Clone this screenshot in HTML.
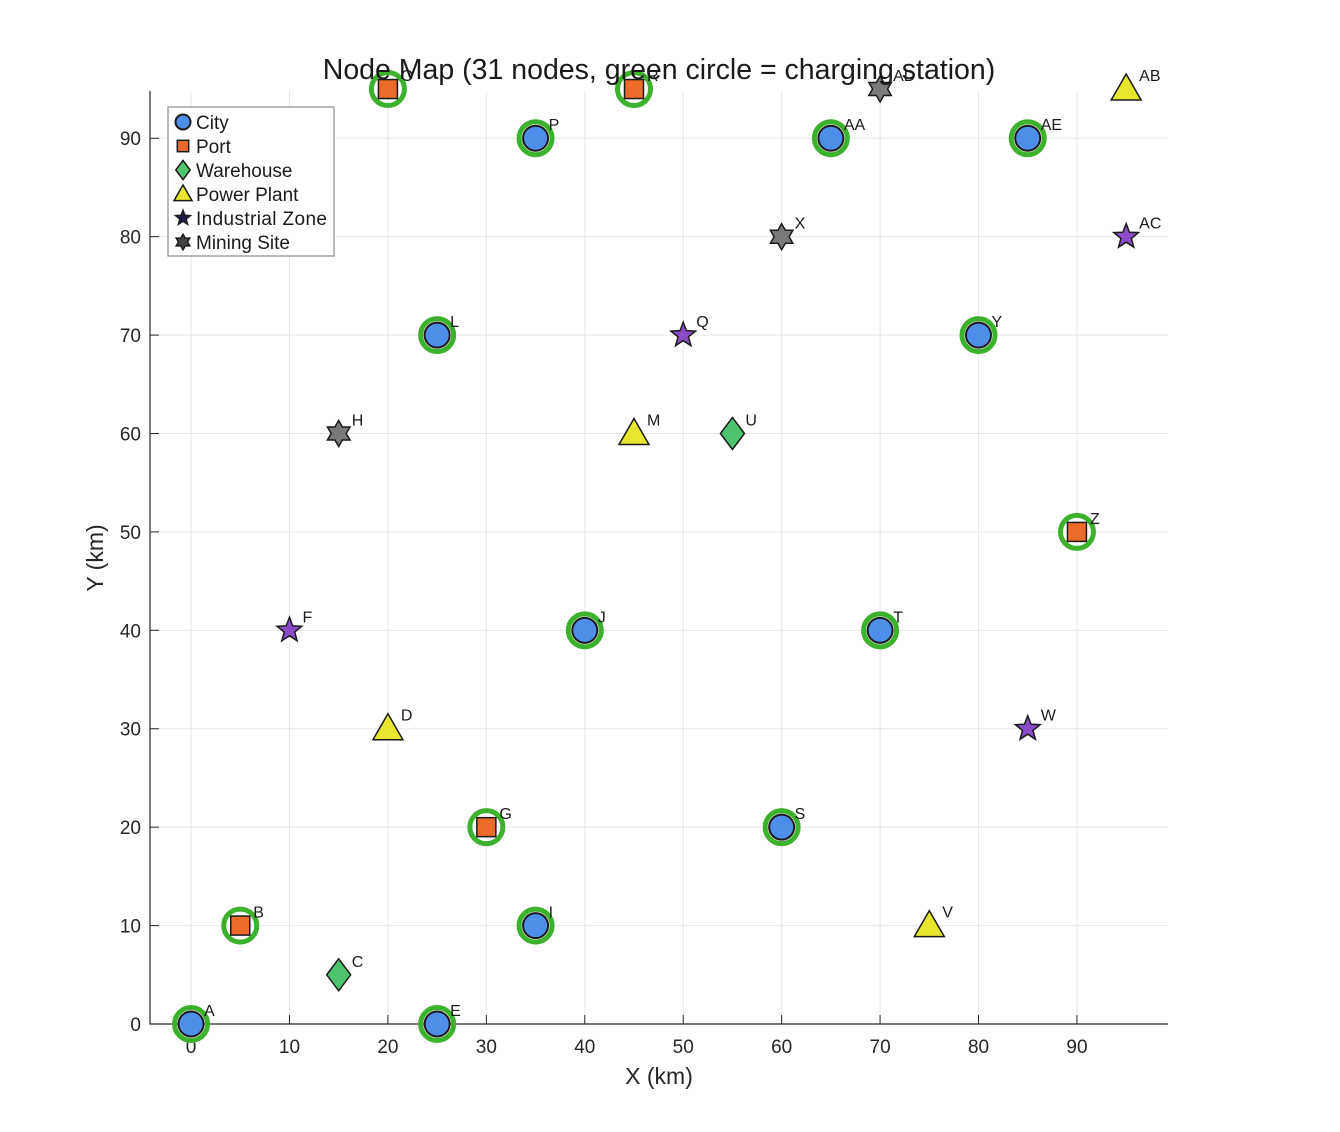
<!DOCTYPE html>
<html><head><meta charset="utf-8"><style>
body{margin:0;background:#fff;}
svg{display:block;font-family:"Liberation Sans",sans-serif;}
</style></head><body>
<svg id="chart" width="1340" height="1132"></svg>
<script>
const names=["A","B","C","D","E","F","G","H","I","J","L","M","O","P","Q","R","S","T","U","V","W","X","Y","Z","AA","AB","AC","AD","AE"];
const xs=[0,5,15,20,25,10,30,15,35,40,25,45,20,35,50,45,60,70,55,75,85,60,80,90,65,95,95,70,85];
const ys=[0,10,5,30,0,40,20,60,10,40,70,60,95,90,70,95,20,40,60,10,30,80,70,50,90,95,80,95,90];
const types=["city","port","warehouse","power","city","industrial","port","mining","city","city","city","power","port","city","industrial","port","city","city","warehouse","power","industrial","mining","city","port","city","power","industrial","mining","city"];
const charging=[1,1,0,0,1,0,1,0,1,1,1,0,1,1,0,1,1,1,0,0,0,0,1,1,1,0,0,0,1];
const xTicks=[0,10,20,30,40,50,60,70,80,90];
const yTicks=[0,10,20,30,40,50,60,70,80,90];
const L=150,R=1168,T=91,B=1024,XMIN=-4.17,XMAX=99.25,YMIN=0,YMAX=94.8;
const sx=v=>L+(v-XMIN)/(XMAX-XMIN)*(R-L);
const sy=v=>B-(v-YMIN)/(YMAX-YMIN)*(B-T);
const svg=document.getElementById('chart');
const NS='http://www.w3.org/2000/svg';
function mk(tag,at,parent){const e=document.createElementNS(NS,tag);for(const k in at)e.setAttribute(k,at[k]);(parent||svg).appendChild(e);return e;}
xTicks.forEach(t=>{const g=mk('line',{x1:sx(t),x2:sx(t),y1:T,y2:B,stroke:'#e6e6e6','stroke-width':1});


const tk=mk('text',{x:sx(t),y:B+29,'text-anchor':'middle','font-size':19,fill:'#262626'});tk.textContent=t;


mk('line',{x1:sx(t),x2:sx(t),y1:B,y2:B-9,stroke:'#262626'});});
yTicks.forEach(t=>{const g=mk('line',{x1:L,x2:R,y1:sy(t),y2:sy(t),stroke:'#e6e6e6','stroke-width':1});


const tk=mk('text',{x:L-9,y:sy(t)+7,'text-anchor':'end','font-size':19,fill:'#262626'});tk.textContent=t;


mk('line',{x1:L,x2:L+9,y1:sy(t),y2:sy(t),stroke:'#262626'});});
const ax=mk('path',{d:`M${L},${T} V${B} H${R}`,fill:'none',stroke:'#262626','stroke-width':1.2});


function starPts(cx,cy,ro,ri,n){let p=[];for(let i=0;i<2*n;i++){const a=-Math.PI/2+i*Math.PI/n;const r=i%2?ri:ro;p.push((cx+r*Math.cos(a)).toFixed(1)+','+(cy+r*Math.sin(a)).toFixed(1));}return p.join(' ');}
function marker(type,cx,cy,s,parent,leg){
 s=s||1;
 if(type==='city')return mk('circle',{cx,cy,r:12.5*s,fill:'#4d8fe8',stroke:'#1a1a1a','stroke-width':2},parent);
 if(type==='port')return mk('rect',{x:cx-9.5*s,y:cy-9.5*s,width:19*s,height:19*s,fill:'#ec6a2a',stroke:'#1a1a1a','stroke-width':1.5},parent);
 if(type==='warehouse')return mk('polygon',{points:`${cx},${cy-16*s} ${cx+12*s},${cy} ${cx},${cy+16*s} ${cx-12*s},${cy}`,fill:'#4fc46e',stroke:'#1a1a1a','stroke-width':1.5},parent);
 if(type==='power')return mk('polygon',{points:`${cx},${cy-15*s} ${cx+15*s},${cy+11*s} ${cx-15*s},${cy+11*s}`,fill:'#e6e62e',stroke:'#1a1a1a','stroke-width':1.5},parent);
 if(type==='industrial')return mk('polygon',{points:starPts(cx,cy,13*s,5.5*s,5),fill:leg?'#1c1c4a':'#8a4cc8',stroke:'#1a1a1a','stroke-width':1.5},parent);
 return mk('polygon',{points:starPts(cx,cy,13*s,7.5*s,6),fill:leg?'#444':'#7a7a7a',stroke:'#1a1a1a','stroke-width':1.5},parent);
}
names.forEach((n,i)=>{
 const cx=sx(xs[i]),cy=sy(ys[i]);
 const g=mk('g',{});
 
 
 if(charging[i]){const c=mk('circle',{cx,cy,r:16.5,fill:'none',stroke:'#3cb22c','stroke-width':5},g);
 
 }
 marker(types[i],cx,cy,1,g,false);
 const t=mk('text',{x:cx+13,y:cy-8,'font-size':16,fill:'#1a1a1a'},g);t.textContent=n;
});
const ti=mk('text',{x:659,y:79,'text-anchor':'middle','font-size':28.5,fill:'#1a1a1a'});ti.textContent='Node Map (31 nodes, green circle = charging station)';


const xl=mk('text',{x:659,y:1084,'text-anchor':'middle','font-size':23,fill:'#262626'});xl.textContent='X (km)';


const yl=mk('text',{x:103,y:558,'text-anchor':'middle','font-size':23,fill:'#262626',transform:'rotate(-90 103 558)'});yl.textContent='Y (km)';


const lg=mk('g',{});


mk('rect',{x:168,y:107,width:166,height:149,fill:'#fff',stroke:'#8c8c8c','stroke-width':1.2},lg);
const legTypes=["city","port","warehouse","power","industrial","mining"];
const legLabels=["City","Port","Warehouse","Power Plant","Industrial Zone","Mining Site"];
legTypes.forEach((ty,i)=>{const y=122+i*24;
 const e=mk('g',{},lg);
 
 
 marker(ty,183,y,0.6,e,true);
 const t=mk('text',{x:196,y:y+7,'font-size':19,fill:'#1a1a1a',textLength:ty==='industrial'?131:null});t.textContent=legLabels[i];
 if(ty!=='industrial')t.removeAttribute('textLength');});
</script>
</body></html>
